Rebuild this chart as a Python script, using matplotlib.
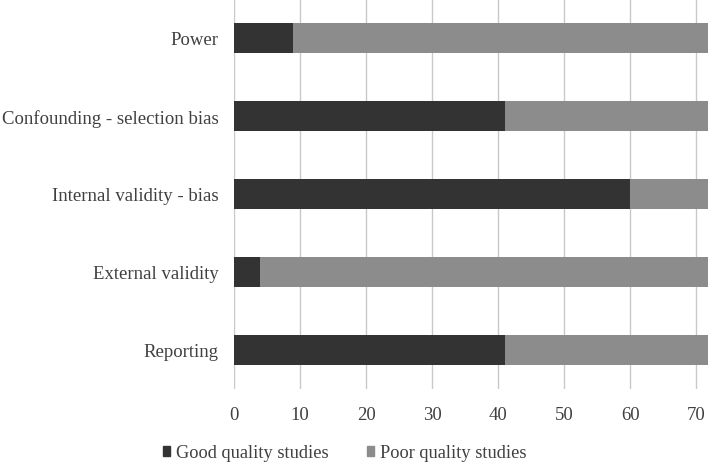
import matplotlib
matplotlib.use("Agg")
import matplotlib.pyplot as plt
from matplotlib.patches import Patch

categories = ["Reporting", "External validity", "Internal validity - bias",
              "Confounding - selection bias", "Power"]
good = [41, 4, 60, 41, 9]
poor = [31, 68, 12, 31, 63]
xticks = [0, 10, 20, 30, 40, 50, 60, 70]

plt.rcParams['font.family'] = ['Liberation Serif', 'DejaVu Serif']

fig = plt.figure(figsize=(7.09, 4.64), dpi=100)
ax = fig.add_axes([234 / 709, 74 / 464, 474 / 709, 390 / 464])

y = range(len(categories))
ax.barh(y, good, height=0.385, color='#333333', label='Good quality studies', zorder=3)
ax.barh(y, poor, left=good, height=0.385, color='#8c8c8c', label='Poor quality studies', zorder=3)

ax.set_xlim(0, 71.8)
ax.set_ylim(-0.5, 4.5)
ax.set_xticks(xticks)
ax.set_yticks(list(y))
ax.set_yticklabels(categories)
ax.grid(axis='x', color='#c8c8c8', linewidth=1, zorder=0)
for s in ax.spines.values():
    s.set_visible(False)
ax.tick_params(length=0, labelcolor='#404040')
ax.tick_params(axis='x', pad=12, labelsize=13.5)
ax.tick_params(axis='y', pad=11, labelsize=13.5)

handles = [Patch(color='#333333'), Patch(color='#8c8c8c')]
fig.legend(handles, ['Good quality studies', 'Poor quality studies'],
           loc='center left', bbox_to_anchor=(163 / 709, 1 - 454 / 464),
           ncol=2, frameon=False, fontsize=13.2, labelcolor='#404040',
           borderpad=0, borderaxespad=0,
           handlelength=0.4, handleheight=0.4, handletextpad=0.3, columnspacing=2.1)

fig.savefig('out.png', dpi=100)
